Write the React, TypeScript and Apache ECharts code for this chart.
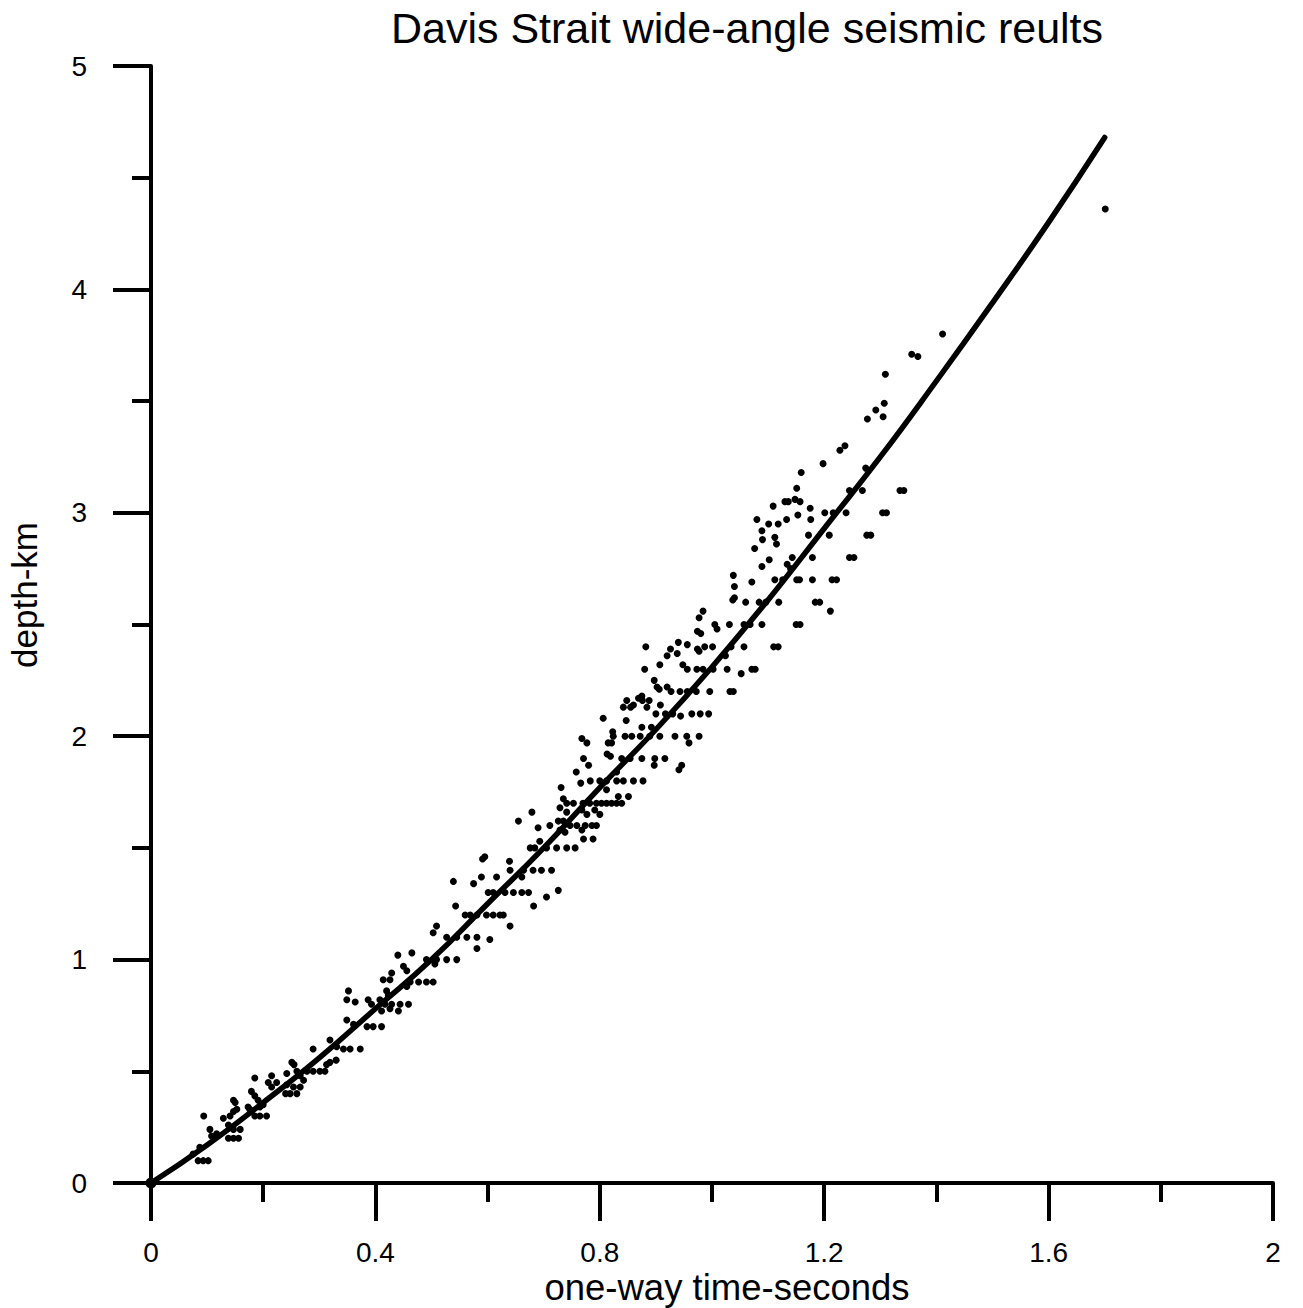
import React, { useEffect, useRef } from "react";
import * as echarts from "echarts";

const titleText = "Davis Strait wide-angle seismic reults";
const xName = "one-way time-seconds";
const yName = "depth-km";

// fitted time-depth curve
const curveTimes = [0, 0.1, 0.2, 0.3, 0.4, 0.5, 0.6, 0.7, 0.8, 0.9, 1.0, 1.1, 1.2, 1.3, 1.4, 1.5, 1.6, 1.7];
const curveDepths = [0, 0.17, 0.36, 0.56, 0.78, 1.0, 1.25, 1.5, 1.77, 2.03, 2.31, 2.61, 2.93, 3.25, 3.59, 3.94, 4.3, 4.68];

// observations [time, depth]
const obsShallow: number[][] = [
  [0, 0],
  [0.087, 0.16], [0.075, 0.13], [0.084, 0.1], [0.093, 0.1], [0.102, 0.1],
  [0.094, 0.3],
  [0.105, 0.24], [0.108, 0.21], [0.117, 0.22],
  [0.129, 0.29], [0.141, 0.3], [0.147, 0.32], [0.153, 0.33],
  [0.138, 0.26], [0.147, 0.24], [0.159, 0.24],
  [0.138, 0.2], [0.147, 0.2], [0.156, 0.2],
  [0.147, 0.37], [0.15, 0.36],
  [0.173, 0.34], [0.176, 0.33], [0.185, 0.3], [0.194, 0.3], [0.206, 0.3],
  [0.179, 0.41], [0.185, 0.39], [0.191, 0.37], [0.194, 0.34], [0.2, 0.35],
  [0.185, 0.47], [0.215, 0.48],
  [0.209, 0.45], [0.215, 0.43], [0.224, 0.45],
  [0.242, 0.44], [0.254, 0.43], [0.266, 0.43],
  [0.24, 0.4], [0.248, 0.4], [0.26, 0.4],
  [0.242, 0.49], [0.251, 0.54], [0.255, 0.53],
  [0.26, 0.5], [0.266, 0.48], [0.272, 0.46],
  [0.278, 0.5], [0.289, 0.5], [0.301, 0.5], [0.31, 0.5],
  [0.289, 0.6], [0.319, 0.64],
  [0.313, 0.53], [0.319, 0.54], [0.33, 0.55],
  [0.331, 0.61], [0.343, 0.6], [0.355, 0.6], [0.373, 0.6],
  [0.352, 0.86], [0.349, 0.82], [0.364, 0.81], [0.387, 0.82], [0.393, 0.8], [0.408, 0.82], [0.42, 0.86], [0.423, 0.84],
  [0.417, 0.8], [0.429, 0.8], [0.444, 0.8], [0.459, 0.8],
  [0.441, 0.77], [0.411, 0.77], [0.426, 0.78],
  [0.349, 0.73], [0.361, 0.71], [0.385, 0.7], [0.396, 0.7], [0.411, 0.7],
  [0.44, 1.02], [0.465, 1.03], [0.45, 0.97], [0.456, 0.95],
  [0.429, 0.94], [0.414, 0.91], [0.426, 0.91],
  [0.462, 0.9], [0.477, 0.9], [0.491, 0.9], [0.503, 0.9], [0.456, 0.88],
  [0.491, 1.0], [0.509, 1.0], [0.527, 1.0], [0.545, 1.0], [0.506, 0.98],
  [0.503, 1.12], [0.509, 1.15],
  [0.527, 1.1], [0.545, 1.1], [0.563, 1.1], [0.581, 1.1], [0.604, 1.09], [0.581, 1.05],
  [0.64, 1.15],
  [0.56, 1.2], [0.569, 1.2], [0.581, 1.2], [0.598, 1.2], [0.61, 1.2], [0.622, 1.2], [0.628, 1.2],
  [0.543, 1.24], [0.682, 1.24],
];

const obsMiddle: number[][] = [
  [0.539, 1.35], [0.575, 1.34], [0.589, 1.37], [0.616, 1.37], [0.661, 1.37],
  [0.601, 1.3], [0.61, 1.3], [0.631, 1.3], [0.646, 1.3], [0.661, 1.3], [0.673, 1.3],
  [0.705, 1.28], [0.726, 1.31],
  [0.591, 1.45], [0.595, 1.46], [0.639, 1.44],
  [0.64, 1.4], [0.664, 1.4], [0.681, 1.4], [0.696, 1.4], [0.714, 1.4],
  [0.693, 1.53],
  [0.676, 1.5], [0.684, 1.5], [0.705, 1.5], [0.723, 1.5], [0.741, 1.5], [0.756, 1.5],
  [0.729, 1.58], [0.738, 1.57], [0.768, 1.58], [0.771, 1.54], [0.788, 1.54],
  [0.655, 1.62], [0.69, 1.59],
  [0.711, 1.6], [0.726, 1.62], [0.735, 1.62], [0.747, 1.6], [0.759, 1.6], [0.774, 1.6], [0.786, 1.6], [0.794, 1.6],
  [0.679, 1.66], [0.729, 1.68], [0.741, 1.66], [0.768, 1.67], [0.777, 1.65], [0.791, 1.67], [0.8, 1.65],
  [0.731, 1.77], [0.735, 1.72],
  [0.741, 1.7], [0.753, 1.7], [0.77, 1.7], [0.782, 1.7], [0.794, 1.7], [0.803, 1.7], [0.812, 1.7], [0.821, 1.7], [0.83, 1.7], [0.839, 1.7],
  [0.758, 1.84], [0.766, 1.79], [0.783, 1.8],
  [0.771, 1.9], [0.78, 1.87],
  [0.768, 1.99], [0.777, 1.97],
  [0.8, 1.8], [0.812, 1.8], [0.83, 1.8], [0.842, 1.8], [0.86, 1.8], [0.877, 1.8],
  [0.812, 1.76], [0.833, 1.73], [0.851, 1.73],
  [0.83, 1.84],
  [0.839, 1.9], [0.854, 1.9], [0.875, 1.9], [0.898, 1.9], [0.916, 1.9],
  [0.813, 1.92], [0.819, 1.91],
  [0.897, 1.87], [0.941, 1.85], [0.946, 1.87],
  [0.815, 1.97], [0.821, 1.97],
  [0.824, 2.0], [0.845, 2.0], [0.857, 2.0], [0.872, 2.0], [0.889, 2.0], [0.907, 2.0], [0.934, 2.0], [0.955, 2.0], [0.977, 2.0],
  [0.959, 1.97], [0.823, 2.02],
  [0.806, 2.08], [0.847, 2.07], [0.875, 2.04], [0.892, 2.04],
  [0.9, 2.1], [0.917, 2.1], [0.93, 2.1], [0.944, 2.09], [0.964, 2.1], [0.979, 2.1], [0.994, 2.1],
  [0.842, 2.13], [0.848, 2.16], [0.855, 2.13], [0.86, 2.14], [0.869, 2.17], [0.875, 2.18], [0.876, 2.16], [0.888, 2.16], [0.884, 2.13], [0.908, 2.14],
  [0.897, 2.25], [0.902, 2.22], [0.906, 2.21], [0.92, 2.22],
  [0.927, 2.2], [0.943, 2.2], [0.956, 2.2], [0.972, 2.2], [0.996, 2.2], [1.032, 2.2], [1.038, 2.2],
  [0.88, 2.3], [0.907, 2.32], [0.948, 2.32], [0.956, 2.3], [0.973, 2.3], [0.984, 2.3], [1.002, 2.3], [1.027, 2.3], [1.052, 2.28], [1.071, 2.3], [1.077, 2.3],
  [0.882, 2.4], [0.926, 2.39], [0.94, 2.42], [0.956, 2.41], [0.938, 2.37], [0.92, 2.36], [0.974, 2.39], [0.977, 2.38], [0.987, 2.4], [1.001, 2.4], [1.034, 2.4], [1.057, 2.4], [1.024, 2.36],
  [0.974, 2.47], [0.98, 2.46], [1.005, 2.5], [1.009, 2.48], [1.031, 2.5], [1.057, 2.5],
  [0.977, 2.53], [0.984, 2.56],
  [1.038, 2.72], [1.04, 2.67], [1.037, 2.61], [1.04, 2.62], [1.06, 2.6],
];

const obsDeep: number[][] = [
  [1.11, 2.4], [1.118, 2.4],
  [1.068, 2.5], [1.089, 2.5], [1.15, 2.5], [1.157, 2.5],
  [1.211, 2.56],
  [1.084, 2.6], [1.096, 2.6], [1.119, 2.6], [1.184, 2.6], [1.192, 2.6],
  [1.071, 2.69],
  [1.112, 2.7], [1.126, 2.7], [1.151, 2.7], [1.156, 2.7], [1.179, 2.7], [1.214, 2.7], [1.222, 2.7],
  [1.089, 2.76], [1.102, 2.79], [1.143, 2.8], [1.134, 2.77], [1.14, 2.75], [1.179, 2.8], [1.245, 2.8], [1.253, 2.8],
  [1.076, 2.84], [1.09, 2.88], [1.112, 2.89], [1.115, 2.86], [1.089, 2.92],
  [1.172, 2.9], [1.209, 2.9], [1.276, 2.9], [1.283, 2.9],
  [1.08, 2.97], [1.101, 2.95], [1.118, 2.95], [1.133, 2.97], [1.153, 2.99], [1.176, 2.97],
  [1.201, 3.0], [1.216, 3.0], [1.239, 3.0], [1.304, 3.0], [1.311, 3.0],
  [1.175, 3.02], [1.109, 3.03], [1.13, 3.05], [1.136, 3.05], [1.148, 3.06], [1.157, 3.05],
  [1.151, 3.11], [1.245, 3.1], [1.268, 3.1], [1.335, 3.1], [1.342, 3.1],
  [1.159, 3.18], [1.198, 3.22], [1.274, 3.2], [1.228, 3.28], [1.237, 3.3],
  [1.277, 3.42], [1.305, 3.43], [1.292, 3.46], [1.307, 3.49], [1.309, 3.62],
  [1.356, 3.71], [1.367, 3.7], [1.411, 3.8], [1.701, 4.36],
];

const FONT = "'Liberation Sans', Arial, sans-serif";

export default function App() {
  const ref = useRef<HTMLDivElement>(null);
  useEffect(() => {
    if (!ref.current) return;
    const chart = echarts.init(ref.current, null, { renderer: "svg" });
    const axisCommon = {
      type: "value" as const,
      axisLine: { show: true, onZero: false, lineStyle: { color: "#000", width: 4 } },
      axisTick: { show: true, inside: false, length: 38, lineStyle: { color: "#000", width: 4 } },
      minorTick: { show: true, splitNumber: 2, length: 19, lineStyle: { color: "#000", width: 4 } },
      splitLine: { show: false },
      minorSplitLine: { show: false },
    };
    const obs = [...obsShallow, ...obsMiddle, ...obsDeep];
    chart.setOption({
      animation: false,
      backgroundColor: "#fff",
      grid: { left: 151, right: 30, top: 66, bottom: 125, containLabel: false },
      xAxis: {
        ...axisCommon,
        min: 0,
        max: 2,
        interval: 0.4,
        axisLabel: {
          show: true,
          color: "#000",
          fontSize: 28,
          fontFamily: FONT,
          margin: 69,
          verticalAlign: "middle",
          lineHeight: 28,
          showMaxLabel: true,
          showMinLabel: true,
        },
      },
      yAxis: {
        ...axisCommon,
        min: 0,
        max: 5,
        interval: 1,
        axisLabel: {
          show: true,
          color: "#000",
          fontSize: 28,
          fontFamily: FONT,
          margin: 64,
          align: "right",
          showMaxLabel: true,
          showMinLabel: true,
        },
      },
      graphic: [
        {
          type: "text",
          x: 747,
          y: 28,
          style: { text: titleText, fill: "#000", font: `43px ${FONT}`, textAlign: "center", textVerticalAlign: "middle" },
        },
        {
          type: "text",
          x: 727,
          y: 1287,
          style: { text: xName, fill: "#000", font: `36.5px ${FONT}`, textAlign: "center", textVerticalAlign: "middle" },
        },
        {
          type: "text",
          x: 24,
          y: 595,
          rotation: Math.PI / 2,
          style: { text: yName, fill: "#000", font: `35px ${FONT}`, textAlign: "center", textVerticalAlign: "middle" },
        },
      ],
      series: [
        {
          type: "scatter",
          data: obs.map((p) => (p[0] === 0 && p[1] === 0 ? { value: p, symbolSize: 11 } : p)),
          symbol: "circle",
          symbolSize: 7,
          itemStyle: { color: "#000", opacity: 1 },
          silent: true,
          z: 2,
        },
        {
          type: "line",
          data: curveTimes.map((t, i) => [t, curveDepths[i]]),
          smooth: true,
          showSymbol: false,
          lineStyle: { color: "#000", width: 5.5, cap: "round" },
          silent: true,
          z: 3,
        },
      ],
    });
    return () => chart.dispose();
  }, []);
  return (
    <div
      ref={ref}
      style={{ position: "absolute", left: 0, top: 0, width: 1303, height: 1308, background: "#fff" }}
    />
  );
}
